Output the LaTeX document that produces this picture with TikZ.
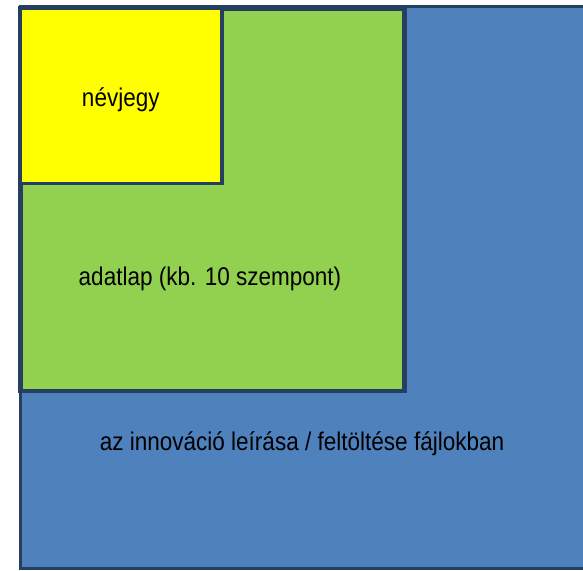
\documentclass[tikz,border=0pt]{standalone}
\usepackage{fontspec}
\setmainfont{Liberation Sans}[FakeStretch=0.88]
\definecolor{keret}{HTML}{243F60}
\definecolor{kek}{HTML}{4F81BD}
\definecolor{zold}{HTML}{92D050}
\definecolor{sarga}{HTML}{FFFF00}
\tikzset{
  doboz/.style={draw=keret,line join=miter},
  felirat/.style={anchor=base,inner sep=0pt,font=\fontsize{25.6}{30}\selectfont}
}
\begin{document}
\begin{tikzpicture}[x=1pt,y=-1pt]
  \useasboundingbox (0,0) rectangle (583,570);
  \clip (0,0) rectangle (583,570);
  \draw[doboz,fill=kek,line width=3pt] (20.5,6.5) rectangle (600,568.5);
  \draw[doboz,fill=zold,line width=4.5pt] (20.5,8.5) rectangle (404.5,391);
  \draw[doboz,fill=sarga,line width=3.5pt] (20.5,8.5) rectangle (222.2,183.3);
  \node[felirat] (nevjegy) at (120.8,106.7) {névjegy};
  \node[felirat] (adatlap) at (210,285) {adatlap (kb. 10 szempont)};
  \node[felirat] (leiras) at (302,450) {az innováció leírása / feltöltése fájlokban};
\end{tikzpicture}
\end{document}
